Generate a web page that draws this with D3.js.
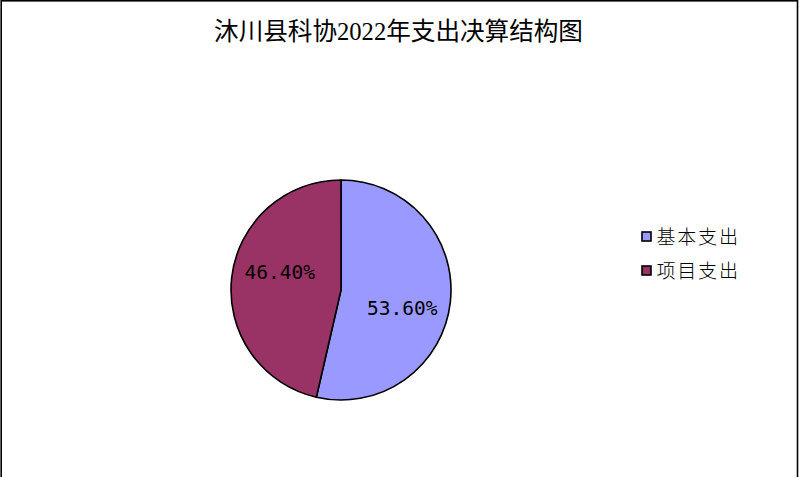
<!DOCTYPE html>
<html><head><meta charset="utf-8">
<script src="https://cdn.jsdelivr.net/npm/d3@7"></script>
<style>html,body{margin:0;padding:0;background:#fff;}</style>
</head><body>
<svg id="chart" width="799" height="477"></svg>
<script>
const title = "沐川县科协2022年支出决算结构图";
const categories = ["基本支出", "项目支出"];
const values = [53.6, 46.4];
const labels = ["53.60%", "46.40%"];
const colors = ["#9999FF", "#993366"];

const svg = d3.select("#chart");
svg.append("rect").attr("x", 1.2).attr("y", 0.8).attr("width", 796.3).attr("height", 490)
  .attr("fill", "#fff").attr("stroke", "#000").attr("stroke-width", 1.6);

svg.append("text").attr("x", 398.5).attr("y", 39.5).attr("text-anchor", "middle")
  .attr("font-family", "'Liberation Serif','Noto Sans CJK SC'").attr("font-size", 24.6)
  .attr("fill", "#000").text(title);

const cx = 341, cy = 290, r = 110;
const pie = d3.pie().sort(null).value(d => d)(values);
const arc = d3.arc().innerRadius(0).outerRadius(r);
const g = svg.append("g").attr("transform", `translate(${cx},${cy})`);
g.selectAll("path").data(pie).join("path")
  .attr("d", arc).attr("fill", (d, i) => colors[i])
  .attr("stroke", "#000").attr("stroke-width", 1.6).attr("stroke-linejoin", "round");

const shift = 10 * Math.PI / 180;
const labelArc = d3.arc().innerRadius(r * 0.58).outerRadius(r * 0.58);
g.selectAll("text").data(pie).join("text")
  .attr("transform", d => {
    const c = labelArc.centroid({startAngle: d.startAngle + shift, endAngle: d.endAngle + shift});
    return `translate(${c[0]},${c[1]})`;
  })
  .attr("text-anchor", "middle").attr("dy", "0.36em")
  .attr("font-family", "'DejaVu Sans Mono', monospace").attr("font-size", 19.5)
  .attr("fill", "#000").text((d, i) => labels[i]);

const leg = svg.append("g");
categories.forEach((c, i) => {
  const y = 237 + i * 34;
  leg.append("rect").attr("x", 642).attr("y", y - 5).attr("width", 9).attr("height", 9)
    .attr("fill", colors[i]).attr("stroke", "#000").attr("stroke-width", 1.6);
  leg.append("text").attr("x", 656.5).attr("y", y).attr("dy", "0.36em")
    .attr("font-family", "'Noto Sans CJK SC'").attr("font-size", 19).attr("font-weight", 300)
    .attr("letter-spacing", 1.8)
    .attr("fill", "#000").text(c);
});
</script>
</body></html>
